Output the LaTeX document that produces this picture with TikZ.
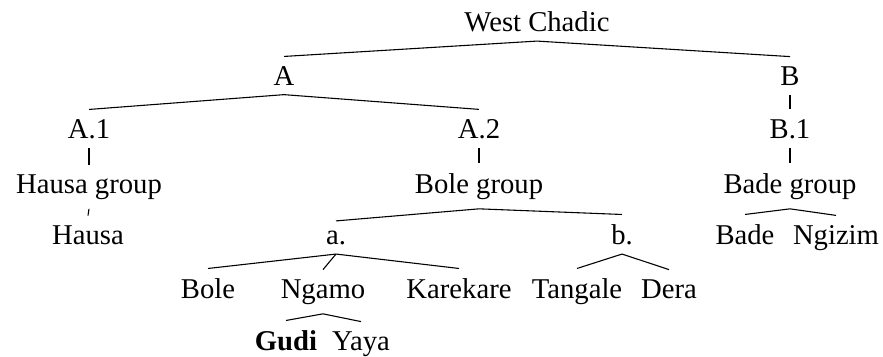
\documentclass[tikz,border=0pt]{standalone}
\usepackage{fontspec}
\setmainfont{Liberation Serif}
\begin{document}
\begin{tikzpicture}[x=0.415pt,y=-0.415pt,
  lang/.style={anchor=base,inner xsep=1pt,inner ysep=3.8pt,font=\fontsize{11.9}{14}\selectfont},
  branch/.style={line width=0.45pt}]
\useasboundingbox (0,0) rectangle (883,356);
% tree nodes, placed at their baselines
\node[lang] (wc) at (537,31) {West Chadic};
\node[lang] (A) at (284,85) {A};
\node[lang] (B) at (790,85) {B};
\node[lang] (A1) at (89,138) {A.1};
\node[lang] (A2) at (479,138) {A.2};
\node[lang] (B1) at (790,138) {B.1};
\node[lang] (hg) at (89,193) {Hausa group};
\node[lang] (bg) at (479,193) {Bole group};
\node[lang] (dg) at (790,193) {Bade group};
\node[lang] (hausa) at (88,244) {Hausa};
\node[lang] (a) at (336,244) {a.};
\node[lang] (b) at (622,244) {b.};
\node[lang] (bade) at (745,244) {Bade};
\node[lang] (ngizim) at (836,244) {Ngizim};
\node[lang] (bole) at (208,298) {Bole};
\node[lang] (ngamo) at (323,298) {Ngamo};
\node[lang] (kare) at (459,298) {Karekare};
\node[lang] (tang) at (577,298) {Tangale};
\node[lang] (dera) at (669,298) {Dera};
\node[lang] (gudi) at (286,350) {\textbf{Gudi}};
\node[lang] (yaya) at (361,350) {Yaya};
% branches
\foreach \p/\c in {wc/A, wc/B, A/A1, A/A2, B/B1, A1/hg, A2/bg, B1/dg,
  hg/hausa, bg/a, bg/b, dg/bade, dg/ngizim, a/bole, a/ngamo, a/kare,
  b/tang, b/dera, ngamo/gudi, ngamo/yaya}
  \draw[branch] (\p.south) -- (\c.north);
\end{tikzpicture}
\end{document}
